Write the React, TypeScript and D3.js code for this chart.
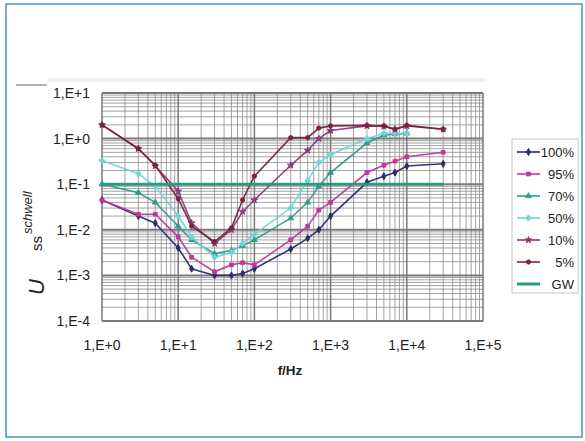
import React from "react";
import * as d3 from "d3";

const freq = [1, 3, 5, 10, 15, 30, 50, 70, 100, 300, 500, 700, 1000, 3000, 5000, 7000, 10000, 30000];
const s100 = [0.045, 0.02, 0.014, 0.004, 0.0014, 0.001, 0.001, 0.0011, 0.0014, 0.0038, 0.0065, 0.01, 0.02, 0.11, 0.15, 0.18, 0.25, 0.28];
const s95 = [0.045, 0.022, 0.022, 0.007, 0.0025, 0.0012, 0.0017, 0.0019, 0.0017, 0.006, 0.012, 0.027, 0.04, 0.18, 0.26, 0.32, 0.4, 0.5];
const s70 = [0.1, 0.065, 0.04, 0.012, 0.006, 0.003, 0.0035, 0.0045, 0.006, 0.018, 0.04, 0.09, 0.18, 0.8, 1.2, 1.25, 1.3, null];
const s50 = [0.33, 0.17, 0.09, 0.02, 0.007, 0.0025, 0.0032, 0.005, 0.008, 0.03, 0.12, 0.3, 0.45, 1.0, 1.3, 1.3, 1.3, null];
const s10 = [2.0, 0.6, 0.25, 0.07, 0.014, 0.005, 0.01, 0.025, 0.045, 0.26, 0.55, 1.0, 1.5, 1.9, 1.85, 1.6, 1.9, 1.6];
const s5 = [2.0, 0.6, 0.26, 0.048, 0.012, 0.0055, 0.011, 0.045, 0.15, 1.05, 1.05, 1.7, 1.9, 1.95, 1.9, 1.6, 1.95, 1.6];
const gw = freq.map(() => 0.1);

const seriesNames = ["100%", "95%", "70%", "50%", "10%", "5%", "GW"];
const seriesValues = [s100, s95, s70, s50, s10, s5, gw];
const seriesColors = ["#2b2d6e", "#c0389a", "#2f9c8c", "#6fd6d6", "#8a3c78", "#7a2240", "#2a9a80"];
const seriesSymbols = [d3.symbolDiamond, d3.symbolSquare, d3.symbolTriangle, d3.symbolCross, d3.symbolStar, d3.symbolCircle, null];

const xTicks = [1, 10, 100, 1000, 10000, 100000];
const xTickLabels = ["1,E+0", "1,E+1", "1,E+2", "1,E+3", "1,E+4", "1,E+5"];
const yTicks = [1e1, 1, 1e-1, 1e-2, 1e-3, 1e-4];
const yTickLabels = ["1,E+1", "1,E+0", "1,E-1", "1,E-2", "1,E-3", "1,E-4"];

export default function App() {
  const W = 585, H = 441;
  const x = d3.scaleLog().domain([1, 1e5]).range([102, 483]);
  const y = d3.scaleLog().domain([1e-4, 1e1]).range([321, 93]);
  const font = "'Liberation Sans', Arial, sans-serif";

  const vMinor: number[] = [];
  for (let d = 0; d < 5; d++) for (let k = 2; k <= 9; k++) vMinor.push(k * Math.pow(10, d));
  const hMinor: number[] = [];
  for (let d = -4; d < 1; d++) for (let k = 2; k <= 9; k++) hMinor.push(k * Math.pow(10, d));

  const line = d3
    .line<[number, number | null]>()
    .defined((d) => d[1] != null)
    .x((d) => x(d[0]))
    .y((d) => y(d[1] as number));

  const [x0, x1] = x.range();
  const [y0, y1] = y.range();

  return (
    <svg width={W} height={H} style={{ position: "absolute", left: 0, top: 0, background: "#fff" }} fontFamily={font}>
      <rect x={6} y={4} width={576} height={433} fill="#fff" stroke="#4a90d0" strokeWidth={1.5} />
      <line x1={48} x2={485} y1={80} y2={80} stroke="#eceef2" strokeWidth={3} />
      <line x1={16} x2={47} y1={85} y2={85} stroke="#9a9a9a" strokeWidth={1.5} />
      <g>
        {hMinor.map((v, i) => (
          <line key={"hm" + i} x1={x0} x2={x1} y1={y(v)} y2={y(v)} stroke="#8e8e8e" strokeWidth={1} opacity={0.8} />
        ))}
        {vMinor.map((v, i) => (
          <line key={"vm" + i} x1={x(v)} x2={x(v)} y1={y1} y2={y0} stroke="#8e8e8e" strokeWidth={1} opacity={0.8} />
        ))}
        {yTicks.map((v, i) => (
          <line key={"hM" + i} x1={x0} x2={x1} y1={y(v)} y2={y(v)} stroke="#7a7a7a" strokeWidth={2} />
        ))}
        {xTicks.map((v, i) => (
          <line key={"vM" + i} x1={x(v)} x2={x(v)} y1={y1} y2={y0} stroke="#7a7a7a" strokeWidth={1.5} />
        ))}
      </g>
      {seriesValues.map((vals, si) => {
        const pts = freq.map((f, i) => [f, vals[i]] as [number, number | null]);
        const sym = seriesSymbols[si];
        return (
          <g key={"s" + si}>
            <path
              d={line(pts) || ""}
              fill="none"
              stroke={seriesColors[si]}
              strokeWidth={si === 6 ? 3 : 1.6}
              opacity={0.95}
            />
            {sym &&
              pts
                .filter((p) => p[1] != null)
                .map((p, i) => (
                  <path
                    key={i}
                    transform={`translate(${x(p[0])},${y(p[1] as number)})`}
                    d={d3.symbol().type(sym).size(14)() || ""}
                    fill={seriesColors[si]}
                    stroke={seriesColors[si]}
                    strokeWidth={1}
                  />
                ))}
          </g>
        );
      })}
      {yTicks.map((v, i) => (
        <text key={"yl" + i} x={90} y={y(v) + 5} textAnchor="end" fontSize={14} fill="#222">
          {yTickLabels[i]}
        </text>
      ))}
      {xTicks.map((v, i) => (
        <text key={"xl" + i} x={x(v)} y={350} textAnchor="middle" fontSize={14} fill="#222">
          {xTickLabels[i]}
        </text>
      ))}
      <text x={290} y={375} textAnchor="middle" fontSize={13.5} fontWeight="bold" fill="#222">
        f/Hz
      </text>
      <g transform="rotate(-90)" fill="#222">
        <text x={-295} y={44} fontSize={22} fontStyle="italic">U</text>
        <text x={-251} y={42} fontSize={15}>ss</text>
        <text x={-234} y={32} fontSize={13} fontStyle="italic">schwell</text>
      </g>
      <rect x={512} y={139} width={66} height={154} fill="#fff" stroke="#c8c8c8" strokeWidth={1} />
      {seriesNames.map((n, i) => {
        const ly = 152 + 22 * i;
        const sym = seriesSymbols[i];
        return (
          <g key={"lg" + i}>
            <line x1={517} x2={540} y1={ly} y2={ly} stroke={seriesColors[i]} strokeWidth={i === 6 ? 3 : 1.6} />
            {sym && (
              <path
                transform={`translate(528.5,${ly})`}
                d={d3.symbol().type(sym).size(14)() || ""}
                fill={seriesColors[i]}
                stroke={seriesColors[i]}
              />
            )}
            <text x={574} y={ly + 4.5} textAnchor="end" fontSize={13} fill="#222">
              {n}
            </text>
          </g>
        );
      })}
    </svg>
  );
}
